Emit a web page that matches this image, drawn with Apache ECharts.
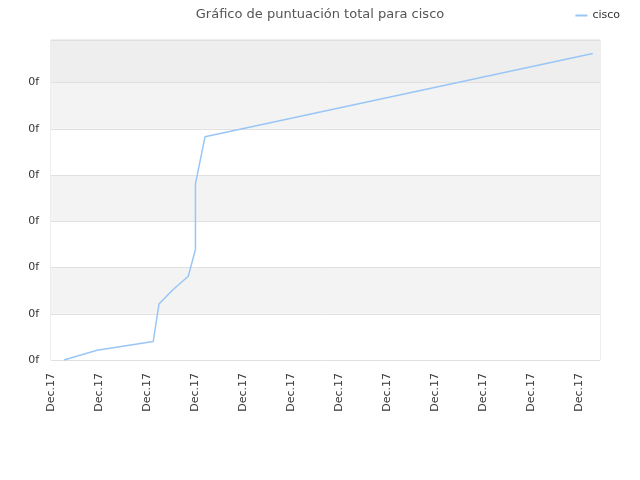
<!DOCTYPE html>
<html>
<head>
    <meta charset="utf-8">
    <title>cisco</title>
    <style>
        html, body { margin: 0; padding: 0; background: #fff; }
        #charts { width: 640px; height: 480px; }
    </style>
</head>
<body>
  <div id="charts"></div>
</body>
<script type="text/javascript" src="https://cdn.jsdelivr.net/npm/echarts@6/dist/echarts.min.js"></script>
<script type="text/javascript">
    // x position (in tick steps) and score of each point
    var xs = [0.27, 0.96, 2.13, 2.25, 2.54, 2.86, 3.01, 3.01, 3.21, 11.29];
    var scores = [0.0, 0.21, 0.40, 1.21, 1.52, 1.81, 2.39, 3.81, 4.83, 6.63];
    var xLabel = 'Dec.17';
    var yLabel = '0f';
    var seriesName = 'cisco';

    var points = [];
    for (var i = 0; i < xs.length; i++) {
        points.push([xs[i], scores[i]]);
    }

    var myChart = echarts.init(document.getElementById('charts'));

    var option = {
        animation: false,
        textStyle: { fontFamily: 'DejaVu Sans' },
        title: {
            text: 'Gráfico de puntuación total para cisco',
            left: 'center',
            top: 3,
            textStyle: { fontSize: 13, fontWeight: 'normal', color: '#555' }
        },
        legend: {
            data: [seriesName],
            right: 15,
            top: 5,
            itemWidth: 12,
            itemHeight: 2,
            itemGap: 5,
            textStyle: { fontSize: 11, color: '#333' },
            icon: 'rect'
        },
        color: ['#99c6f5'],
        grid: {
            left: 51,
            right: 40,
            top: 40,
            bottom: 120,
            show: true,
            borderColor: '#dddddd',
            borderWidth: 1
        },
        xAxis: {
            type: 'value',
            min: 0,
            max: 11.44,
            interval: 1,
            axisLine: { show: false },
            axisTick: { show: false },
            splitLine: { show: false },
            axisLabel: {
                rotate: 90,
                fontSize: 11,
                color: '#333',
                margin: 13,
                showMaxLabel: false,
                formatter: function () { return xLabel; }
            }
        },
        yAxis: {
            type: 'value',
            min: 0,
            max: 6.92,
            interval: 1,
            axisLine: { show: false },
            axisTick: { show: false },
            splitLine: { show: true, lineStyle: { color: '#e0e0e0' } },
            splitArea: {
                show: true,
                areaStyle: { color: ['#ffffff', '#f3f3f3', '#ffffff', '#f3f3f3', '#ffffff', '#f3f3f3', '#eeeeee'] }
            },
            axisLabel: {
                fontSize: 11,
                color: '#333',
                margin: 12,
                showMaxLabel: false,
                formatter: function () { return yLabel; }
            }
        },
        series: [
            {
                name: seriesName,
                type: 'line',
                data: points,
                symbol: 'none',
                lineStyle: { width: 1.5 }
            }
        ]
    };

    myChart.setOption(option);
</script>
</html>
